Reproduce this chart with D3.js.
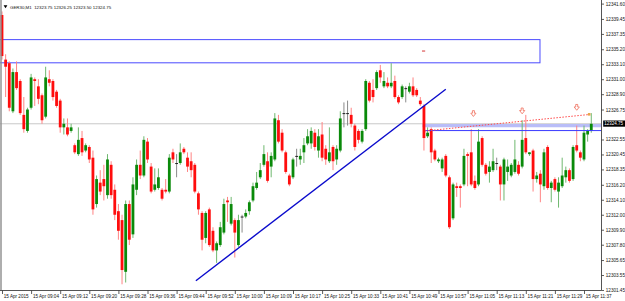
<!DOCTYPE html>
<html><head><meta charset="utf-8">
<script src="https://cdn.jsdelivr.net/npm/d3@7"></script>
<style>html,body{margin:0;padding:0;background:#fff;overflow:hidden}</style>
</head><body>
<script>
// ---- data ----
const opens = [12340.0,12333.75,12333.25,12326.5,12332.0,12330.75,12326.0,12323.75,12327.0,12331.0,
12330.0,12328.75,12325.75,12331.0,12330.75,12329.25,12328.0,12324.25,12324.25,12323.75,
12321.75,12320.5,12322.75,12321.0,12321.5,12320.0,12313.5,12316.5,12317.0,12314.75,
12319.0,12315.5,12312.5,12311.25,12304.0,12313.5,12309.25,12315.5,12319.0,12317.5,
12322.25,12318.75,12315.5,12315.75,12315.5,12315.5,12315.25,12320.75,12319.25,12319.25,
12321.25,12320.0,12319.5,12319.0,12315.0,12312.25,12308.75,12312.75,12309.75,12307.0,
12307.75,12309.5,12314.0,12310.75,12311.25,12307.75,12311.75,12311.75,12312.5,12314.0,
12315.75,12317.25,12319.0,12319.5,12318.75,12319.75,12325.25,12323.5,12320.75,12317.5,
12317.25,12320.25,12319.75,12320.75,12322.0,12322.0,12323.5,12321.0,12323.25,12321.25,
12319.5,12321.5,12319.75,12321.0,12326.25,12326.25,12326.0,12324.5,12323.75,12322.25,
12324.0,12330.5,12329.5,12329.75,12332.25,12330.0,12330.5,12330.0,12330.75,12328.5,
12328.5,12329.75,12329.25,12330.0,12329.5,12328.0,12327.25,12323.0,12324.0,12321.0,
12319.5,12318.5,12320.25,12317.25,12311.5,12316.0,12316.0,12316.25,12320.5,12320.75,
12316.75,12316.25,12322.75,12319.0,12318.0,12318.25,12319.25,12318.75,12316.25,12318.0,
12317.5,12318.0,12319.0,12318.75,12322.75,12320.5,12321.0,12317.0,12317.75,12316.0,
12321.5,12315.75,12317.0,12315.25,12316.0,12317.25,12318.25,12317.0,12321.75,12320.75,
12319.75,12323.25,12323.75];
const highs = [12340.5,12334.5,12333.5,12332.5,12333.5,12331.0,12328.5,12327.0,12331.75,12331.25,
12331.0,12329.0,12332.75,12332.25,12331.0,12329.5,12328.25,12325.5,12325.5,12324.75,
12322.0,12324.25,12323.75,12322.0,12321.75,12321.0,12317.5,12318.25,12319.0,12320.5,
12319.5,12316.25,12313.5,12312.0,12314.0,12314.0,12317.25,12319.75,12321.0,12323.0,
12322.75,12319.25,12318.5,12318.5,12315.75,12317.0,12320.5,12321.25,12320.5,12322.0,
12321.5,12320.75,12320.75,12319.25,12315.25,12312.5,12312.5,12313.0,12310.25,12308.25,
12311.0,12314.25,12314.5,12314.5,12311.5,12312.0,12312.0,12312.75,12314.0,12316.5,
12318.0,12319.25,12321.75,12320.75,12320.75,12326.25,12326.0,12324.0,12321.0,12317.75,
12320.0,12321.25,12321.25,12322.75,12324.0,12324.25,12324.0,12324.0,12325.0,12321.75,
12324.25,12321.75,12321.75,12326.5,12327.75,12328.0,12327.0,12324.75,12324.0,12324.0,
12331.0,12330.75,12331.0,12332.25,12333.0,12332.0,12331.25,12333.25,12331.5,12328.75,
12330.25,12330.0,12330.5,12331.25,12329.75,12328.5,12327.5,12324.25,12324.25,12321.25,
12320.0,12320.0,12320.5,12317.5,12316.5,12316.5,12316.25,12321.25,12320.75,12324.0,
12317.5,12324.0,12323.0,12319.25,12319.5,12321.25,12320.0,12319.0,12320.0,12319.75,
12319.25,12322.5,12319.5,12325.25,12326.0,12320.75,12321.25,12318.0,12318.25,12321.25,
12321.75,12316.75,12317.25,12317.25,12320.0,12318.75,12318.5,12321.75,12324.5,12321.0,
12324.5,12324.0,12326.25];
const lows = [12333.75,12328.5,12326.5,12326.25,12329.5,12326.0,12323.5,12323.5,12326.75,12327.25,
12327.5,12324.75,12325.5,12330.0,12328.0,12327.0,12323.5,12323.25,12323.0,12323.5,
12320.5,12320.25,12320.25,12320.75,12319.25,12312.0,12313.0,12314.75,12314.0,12314.25,
12314.25,12311.25,12308.5,12302.25,12302.5,12307.75,12308.75,12314.75,12317.0,12317.25,
12319.25,12315.0,12315.25,12315.5,12314.0,12315.0,12315.0,12319.25,12317.25,12319.0,
12320.5,12318.0,12317.25,12315.0,12312.0,12307.0,12308.0,12307.5,12306.75,12305.25,
12307.5,12309.25,12311.0,12310.5,12306.0,12307.5,12309.5,12311.5,12312.0,12313.75,
12315.5,12317.0,12318.75,12316.5,12317.25,12319.5,12322.0,12320.75,12317.75,12316.0,
12317.0,12318.75,12319.0,12319.25,12321.75,12321.25,12321.0,12320.0,12319.5,12319.0,
12319.25,12318.25,12319.0,12320.75,12324.25,12324.5,12324.25,12321.0,12322.0,12322.0,
12323.75,12327.75,12327.75,12329.5,12330.5,12329.75,12329.75,12329.75,12328.25,12327.5,
12328.25,12327.75,12329.0,12328.5,12328.5,12327.25,12321.0,12322.75,12319.25,12319.5,
12319.25,12318.0,12317.25,12310.0,12311.25,12314.5,12313.0,12316.0,12316.0,12316.0,
12315.5,12316.0,12318.75,12317.5,12316.5,12318.0,12318.25,12314.0,12314.0,12316.75,
12317.25,12317.75,12317.5,12318.5,12320.5,12320.25,12315.25,12316.5,12313.75,12315.5,
12315.5,12313.75,12315.25,12313.0,12315.75,12316.5,12316.5,12316.75,12320.75,12319.5,
12319.5,12322.25,12323.5];
const closes = [12334.25,12332.75,12327.0,12332.0,12329.75,12326.25,12324.0,12326.75,12331.25,12330.75,
12328.25,12325.25,12331.25,12330.5,12328.5,12327.25,12324.25,12324.75,12323.25,12324.25,
12320.75,12322.5,12320.75,12321.75,12319.75,12312.75,12317.0,12315.25,12316.0,12319.75,
12314.75,12312.0,12309.75,12304.25,12313.5,12308.5,12316.25,12319.0,12317.5,12322.5,
12319.75,12315.25,12316.25,12317.25,12314.25,12315.25,12320.0,12319.75,12319.25,12320.75,
12320.75,12318.75,12318.25,12315.25,12312.75,12308.5,12312.25,12307.75,12307.0,12308.0,
12310.25,12313.5,12313.75,12313.5,12309.5,12311.25,12311.75,12312.25,12313.75,12316.0,
12316.5,12318.25,12320.5,12316.75,12320.25,12325.5,12322.25,12321.0,12318.0,12316.25,
12319.75,12320.25,12320.25,12321.75,12323.0,12323.75,12321.5,12323.0,12320.0,12319.75,
12320.75,12319.5,12321.25,12325.5,12326.25,12326.25,12324.75,12321.5,12322.5,12323.75,
12330.75,12328.0,12328.5,12332.0,12331.25,12330.75,12330.0,12330.5,12328.5,12327.75,
12330.0,12329.75,12330.0,12328.75,12328.75,12327.5,12322.75,12323.5,12320.75,12319.75,
12319.75,12319.75,12317.5,12310.25,12316.25,12315.75,12315.75,12320.25,12320.25,12316.25,
12315.75,12322.25,12319.0,12317.75,12318.75,12319.5,12319.25,12316.25,12319.75,12318.75,
12319.0,12319.75,12317.75,12322.5,12320.75,12320.75,12317.0,12317.5,12316.25,12320.75,
12315.75,12316.5,12315.5,12316.5,12317.5,12318.25,12316.75,12321.5,12321.0,12320.0,
12323.5,12323.75,12324.75];

const timeLabels = ["15 Apr 2015","15 Apr 09:04","15 Apr 09:12","15 Apr 09:20","15 Apr 09:28","15 Apr 09:36",
"15 Apr 09:44","15 Apr 09:52","15 Apr 10:00","15 Apr 10:09","15 Apr 10:17","15 Apr 10:25","15 Apr 10:33",
"15 Apr 10:41","15 Apr 10:49","15 Apr 10:57","15 Apr 11:05","15 Apr 11:13","15 Apr 11:21","15 Apr 11:29","15 Apr 11:37"];
const timeLabelBars = [0,8,16,24,32,40,48,56,64,72,80,88,96,104,112,120,128,136,144,152,160];
const priceLabels = [12341.60,12339.45,12337.35,12335.20,12333.10,12331.00,12328.90,12326.75,12322.55,12320.45,
12318.35,12316.20,12314.10,12312.00,12309.90,12307.80,12305.65,12303.55,12301.45];
const currentPrice = 12324.75;
const titleText = "GER30,M1  12323.75 12326.25 12323.50 12324.75";

const zoneBars = [-1, 147.9];
const zonePrices = [12336.55, 12333.3];
const trendBars = [53.3, 122];
const trendPrices = [12302.75, 12329.6];
const bandBar = 115.6, bandPrice = 12324.5;
const blueLineBar = 116.3, blueLinePrice = 12323.8;
const dotBars = [116.3, 161.4];
const dotPrices = [12323.75, 12326.05];
const arrowBars = [129.6, 143, 158];
const arrowPrices = [12326.17, 12326.54, 12327.04];
const dashBar = 115.9, dashPrice = 12334.95;

// ---- drawing ----
const W = 625, H = 301, plotRight = 601.5, plotBottom = 290.5;
const svg = d3.select("body").append("svg").attr("width", W).attr("height", H)
  .style("display","block").style("background","#fff");
const xs = d3.scaleLinear().domain([0, 162]).range([2, 2 + 162*3.6375]);
const ys = d3.scaleLinear().domain([12301.45, 12341.60]).range([290, 3.6]);
const bars = opens.map((o,i)=>({i, o, h:highs[i], l:lows[i], c:closes[i]}));

svg.append("defs").append("clipPath").attr("id","plot")
  .append("rect").attr("x",0).attr("y",0).attr("width",plotRight).attr("height",plotBottom);
const plot = svg.append("g").attr("clip-path","url(#plot)");

// bid line
plot.append("line").attr("x1",0).attr("x2",plotRight)
  .attr("y1",ys(currentPrice)).attr("y2",ys(currentPrice))
  .attr("stroke","#c8c8c8").attr("stroke-width",1);

// zone rectangle
plot.append("rect")
  .attr("x", xs(zoneBars[0])).attr("y", ys(zonePrices[0]))
  .attr("width", xs(zoneBars[1]) - xs(zoneBars[0]))
  .attr("height", ys(zonePrices[1]) - ys(zonePrices[0]))
  .attr("fill","none").attr("stroke","#4a4aff").attr("stroke-width",1);

// light band
plot.append("line").attr("x1", xs(bandBar)).attr("x2", plotRight)
  .attr("y1", ys(bandPrice)).attr("y2", ys(bandPrice))
  .attr("stroke","#b9bdf8").attr("stroke-width",3.2);

const type = d => d.c > d.o ? "up" : (d.c < d.o ? "down" : "doji");
const wickCol = {up:"#6fb86f", down:"#ff8383", doji:"#8a8a8a"};
const bodyCol = {up:"#0a8a0a", down:"#ff0d0d", doji:"#222"};

plot.append("g").selectAll("line").data(bars).join("line")
  .attr("x1", d=>xs(d.i)).attr("x2", d=>xs(d.i))
  .attr("y1", d=>ys(d.h)).attr("y2", d=>ys(d.l))
  .attr("stroke", d=>wickCol[type(d)]).attr("stroke-width",1);

plot.append("g").selectAll("rect").data(bars).join("rect")
  .attr("x", d=>xs(d.i)-1.4).attr("width", 2.8)
  .attr("y", d=>ys(Math.max(d.o,d.c)))
  .attr("height", d=>Math.max(1, ys(Math.min(d.o,d.c)) - ys(Math.max(d.o,d.c))))
  .attr("fill", d=>bodyCol[type(d)]);

// trendline
plot.append("line")
  .attr("x1", xs(trendBars[0])).attr("y1", ys(trendPrices[0]))
  .attr("x2", xs(trendBars[1])).attr("y2", ys(trendPrices[1]))
  .attr("stroke","#0a0acc").attr("stroke-width",1.4);

// blue horizontal line
plot.append("line").attr("x1", xs(blueLineBar)).attr("x2", plotRight)
  .attr("y1", ys(blueLinePrice)).attr("y2", ys(blueLinePrice))
  .attr("stroke","#3a3aff").attr("stroke-width",1);

// red dotted line
plot.append("line")
  .attr("x1", xs(dotBars[0])).attr("y1", ys(dotPrices[0]))
  .attr("x2", xs(dotBars[1])).attr("y2", ys(dotPrices[1]))
  .attr("stroke","#ff4a4a").attr("stroke-width",1).attr("stroke-dasharray","1.5,1.5");
plot.append("rect").attr("x", xs(dotBars[1])-1.2).attr("y", ys(dotPrices[1])-1.5)
  .attr("width",2.6).attr("height",2.6).attr("fill","#e8a64a");

// small red dash
plot.append("line").attr("x1", xs(dashBar)-1.6).attr("x2", xs(dashBar)+1.6)
  .attr("y1", ys(dashPrice)).attr("y2", ys(dashPrice))
  .attr("stroke","#d02020").attr("stroke-width",0.9);

// down arrows
const arrowPath = "M-1,-3 L1,-3 L1,-0.5 L2.6,-0.5 L0,2.8 L-2.6,-0.5 L-1,-0.5 Z";
plot.append("g").selectAll("path").data(arrowBars).join("path")
  .attr("transform",(d,i)=>`translate(${xs(d)},${ys(arrowPrices[i])})`)
  .attr("d", arrowPath).attr("fill","#fff").attr("stroke","#f07a6a").attr("stroke-width",0.9);

// frame lines
svg.append("line").attr("x1",1).attr("x2",1).attr("y1",0).attr("y2",plotBottom)
  .attr("stroke","#8c8c8c").attr("stroke-width",1.4);
svg.append("line").attr("x1",plotRight).attr("x2",plotRight).attr("y1",0).attr("y2",plotBottom)
  .attr("stroke","#555").attr("stroke-width",1);
svg.append("line").attr("x1",0).attr("x2",plotRight).attr("y1",plotBottom).attr("y2",plotBottom)
  .attr("stroke","#555").attr("stroke-width",1);

const FONT = "'Liberation Sans', Arial, sans-serif";

// right price axis
const ya = svg.append("g").attr("transform",`translate(${plotRight},0)`)
  .call(d3.axisRight(ys).tickValues(priceLabels).tickFormat(d3.format(".2f"))
        .tickSize(2.5).tickSizeOuter(0).tickPadding(1.8));
ya.select(".domain").remove();
ya.attr("font-family", FONT).attr("font-size", 4.6);
ya.selectAll("line").attr("stroke","#333").attr("stroke-width",0.8);
ya.selectAll("text").attr("fill","#111");

// current price box
svg.append("rect").attr("x",603.2).attr("y",ys(currentPrice)-3.3).attr("width",21.8).attr("height",6.2).attr("fill","#000");
svg.append("text").attr("x",604.3).attr("y",ys(currentPrice)).attr("dy","0.34em")
  .attr("font-family",FONT).attr("font-size",4.5).attr("fill","#fff").text(d3.format(".2f")(currentPrice));

// bottom time axis
const xa = svg.append("g").attr("transform",`translate(0,${plotBottom})`)
  .call(d3.axisBottom(xs).tickValues(timeLabelBars).tickFormat((d,i)=>timeLabels[i])
        .tickSize(3.5).tickSizeOuter(0).tickPadding(1));
xa.select(".domain").remove();
xa.attr("font-family", FONT).attr("font-size", 4.6);
xa.selectAll("line").attr("stroke","#333").attr("stroke-width",0.8);
xa.selectAll("text").attr("text-anchor","start").attr("x",1.3).attr("fill","#111");

// title
svg.append("path").attr("d","M3.6,5.2 L7.4,5.2 L5.5,8.2 Z").attr("fill","#000");
svg.append("text").attr("x",10).attr("y",8.8).attr("font-family",FONT).attr("font-size",4.4)
  .attr("fill","#111").attr("xml:space","preserve").text(titleText);
</script>
</body></html>
